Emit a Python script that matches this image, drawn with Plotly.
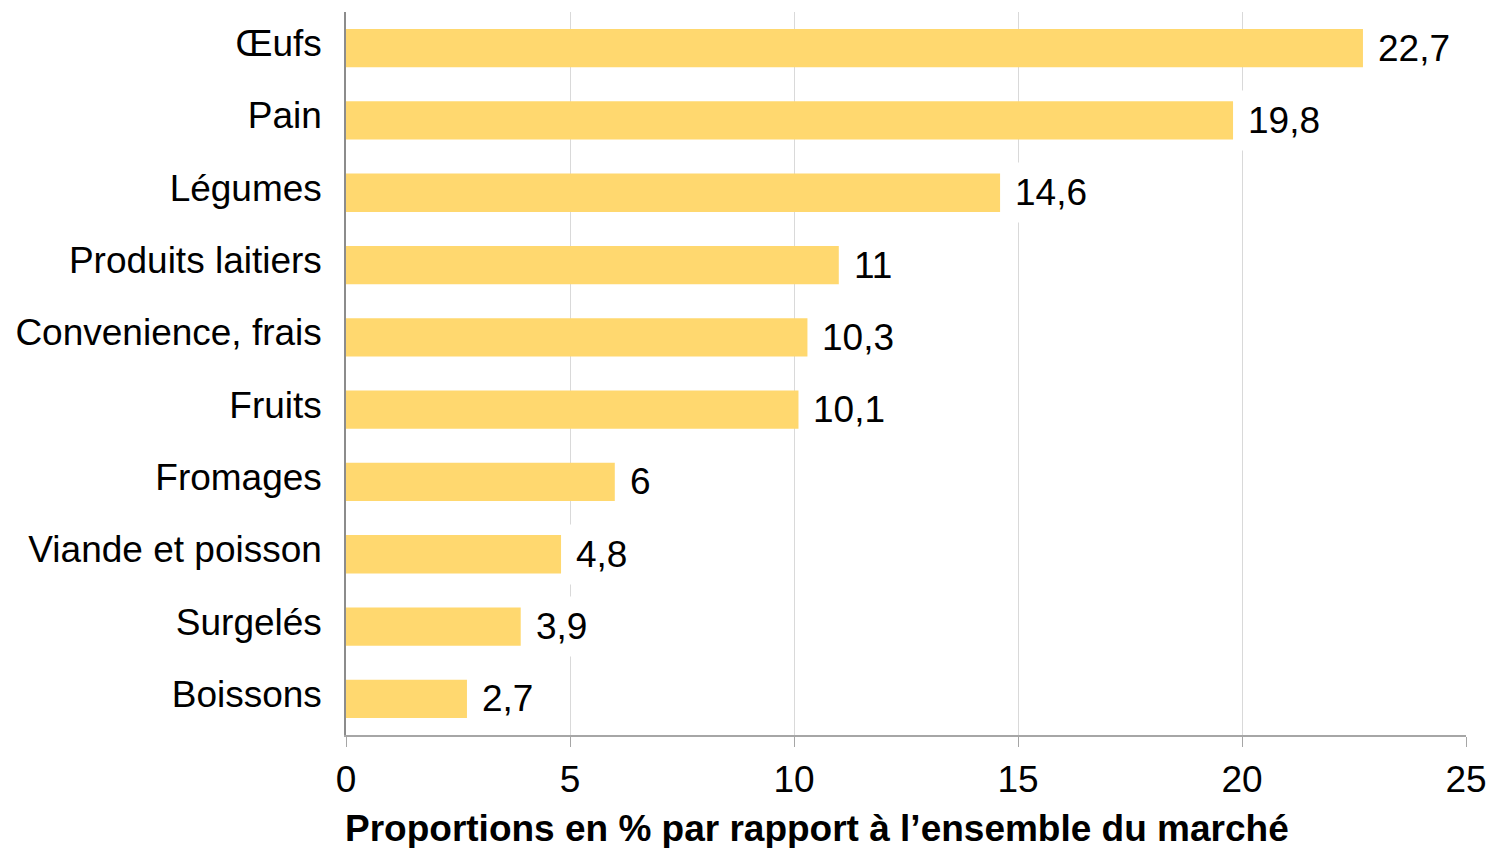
import plotly.graph_objects as go

categories = ["Œufs", "Pain", "Légumes", "Produits laitiers", "Convenience, frais",
              "Fruits", "Fromages", "Viande et poisson", "Surgelés", "Boissons"]
values = [22.7, 19.8, 14.6, 11, 10.3, 10.1, 6, 4.8, 3.9, 2.7]
x_ticks = [0, 5, 10, 15, 20, 25]
x_title = "Proportions en % par rapport à l’ensemble du marché"

FONT = "Liberation Sans, Arial, sans-serif"
BAR = "#FFD86F"

def fmt(v):
    s = ("%g" % v).replace(".", ",")
    return s

fig = go.Figure()
fig.add_trace(go.Bar(
    x=values, y=categories, orientation="h",
    marker=dict(color=BAR, line=dict(width=0)),
    hoverinfo="skip",
))

annotations = []
for c, v in zip(categories, values):
    annotations.append(dict(
        x=v, y=c, xref="x", yref="y", text=fmt(v),
        showarrow=False, xanchor="left", yanchor="middle",
        xshift=5, yshift=0, bgcolor="white", borderpad=9,
        font=dict(family=FONT, size=37, color="#000000"),
    ))
annotations.append(dict(
    x=0, y=0, xref="paper", yref="paper", text="<b>" + x_title + "</b>",
    showarrow=False, xanchor="left", yanchor="middle", xshift=-3, yshift=-93,
    font=dict(family=FONT, size=37, color="#000000"),
))

fig.update_layout(
    width=1491, height=848,
    margin=dict(l=346, r=25, t=12, b=113),
    paper_bgcolor="white", plot_bgcolor="white",
    bargap=0.47,
    showlegend=False,
    font=dict(family=FONT, size=37, color="#000000"),
    annotations=annotations,
)
fig.update_xaxes(
    range=[0, 25], tickvals=x_ticks, ticktext=[str(t) for t in x_ticks],
    automargin=False,
    showgrid=True, gridcolor="#D9D9D9", gridwidth=1,
    zeroline=False,
    showline=True, linecolor="#A6A6A6", linewidth=1.5,
    ticks="outside", ticklen=10, tickcolor="#A6A6A6", tickwidth=1,
    tickfont=dict(family=FONT, size=37, color="#000000"),
    ticklabelstandoff=1,
)
fig.update_yaxes(
    categoryorder="array", categoryarray=categories, autorange="reversed",
    automargin=False,
    showgrid=False, zeroline=False,
    showline=True, linecolor="#8C8C8C", linewidth=1.5,
    ticks="", ticklabelstandoff=15, ticklabelshift=5,
    tickfont=dict(family=FONT, size=37, color="#000000"),
)

fig.write_html(
    "out.html",
    config={"displayModeBar": False},
    post_script="document.body.style.margin='0';document.body.style.overflow='hidden';",
)
